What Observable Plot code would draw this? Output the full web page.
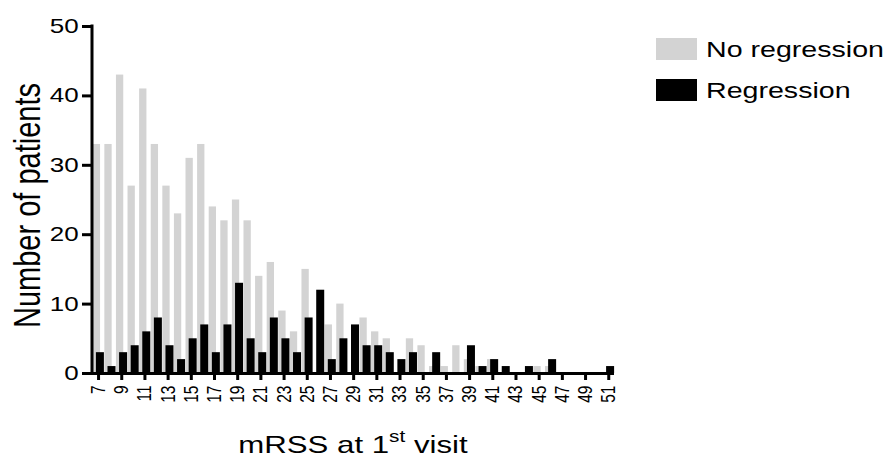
<!DOCTYPE html>
<html><head><meta charset="utf-8">
<script src="https://cdn.jsdelivr.net/npm/d3@7"></script>
<script src="https://cdn.jsdelivr.net/npm/@observablehq/plot@0.6"></script>
<style>body{margin:0;background:#fff} #chart svg{display:block}</style>
</head><body><div id="chart"></div>
<script>
// mRSS score at 1st visit (categories)
const scores = [7,8,9,10,11,12,13,14,15,16,17,18,19,20,21,22,23,24,25,26,27,28,29,30,31,32,33,34,35,36,37,38,39,40,41,42,43,44,45,46,47,48,49,50,51];
// Number of patients – No regression (grey)
const noRegression = [33,33,43,27,41,33,27,23,31,33,24,22,25,22,14,16,9,6,15,0,7,10,0,8,6,5,0,5,4,1,1,4,2,1,2,0,0,0,1,1,0,0,0,0,0];
// Number of patients – Regression (black)
const regression = [3,1,3,4,6,8,4,2,5,7,3,7,13,5,3,8,5,3,8,12,2,5,7,4,4,3,2,3,0,3,0,0,4,1,2,1,0,1,0,2,0,0,0,0,1];
const xTicks = [7,9,11,13,15,17,19,21,23,25,27,29,31,33,35,37,39,41,43,45,47,49,51];
const yTicks = [0,10,20,30,40,50];
const seriesNames = ["No regression","Regression"];
const seriesColors = ["#d3d3d3","#000000"];

const W = 886, H = 457;
const SX = 1.3;               // the original figure is stretched horizontally
const w = W / SX;
const px = v => v / SX;

const table = scores.map((s, i) => ({score: s, no: noRegression[i], yes: regression[i]}));

const chart = Plot.plot({
  width: w, height: H,
  marginLeft: px(92), marginRight: w - px(614), marginTop: 26, marginBottom: 84,
  style: {fontFamily: "'Liberation Sans', Arial, sans-serif", color: "#000", background: "#fff", overflow: "visible"},
  x: {type: "band", domain: scores, range: [px(93.9), px(612.1)], paddingInner: 0.31, paddingOuter: 0},
  y: {domain: [0, 50]},
  marks: [
    Plot.barY(table, {x: "score", y: "no", fill: seriesColors[0], dx: px(-1.5), insetLeft: px(0.35), insetRight: px(0.35)}),
    Plot.barY(table, {x: "score", y: "yes", fill: seriesColors[1], dx: px(2)}),
    Plot.ruleY([0], {strokeWidth: 3}),
    Plot.axisY({ticks: yTicks, tickSize: px(10), tickPadding: px(4), strokeWidth: 3, fontSize: 20, label: null, tickFormat: d => String(d)}),
    Plot.axisX({ticks: xTicks, tickSize: 7, tickPadding: 5, tickRotate: -90, strokeWidth: px(3), fontSize: 15.5, label: null, tickFormat: d => String(d)})
  ]
});

const svg = d3.select(chart);
const y = chart.scale("y");
svg.append("line")
  .attr("x1", px(92)).attr("x2", px(92))
  .attr("y1", y.apply(50) - 1.5).attr("y2", y.apply(0) + 1.5)
  .attr("stroke", "#000").attr("stroke-width", px(3));

// y axis title
svg.append("text")
  .attr("transform", `translate(${px(40)},${(y.apply(0) + y.apply(50)) / 2 + 6}) rotate(-90)`)
  .attr("text-anchor", "middle").attr("font-size", 29).attr("fill", "#000")
  .text("Number of patients");

// x axis title with superscript
const xt = svg.append("text")
  .attr("x", px(353)).attr("y", 453)
  .attr("text-anchor", "middle").attr("font-size", 24).attr("fill", "#000");
xt.append("tspan").text("mRSS at 1");
xt.append("tspan").attr("font-size", 16).attr("dy", -11).text("st");
xt.append("tspan").attr("dy", 11).text(" visit");

// legend
const lg = svg.append("g").attr("text-anchor", "start");
seriesNames.forEach((name, i) => {
  const top = 38 + i * 41;
  lg.append("rect").attr("x", px(656)).attr("y", top).attr("width", px(41)).attr("height", 22).attr("fill", seriesColors[i]);
  lg.append("text").attr("x", px(706)).attr("y", top + 19).attr("text-anchor", "start").attr("font-size", 22).attr("fill", "#000").text(name);
});

chart.setAttribute("width", W);
chart.setAttribute("height", H);
chart.setAttribute("preserveAspectRatio", "none");
chart.style.width = W + "px";
chart.style.height = H + "px";
chart.style.maxWidth = "none";
document.getElementById("chart").appendChild(chart);
</script>
</body></html>
